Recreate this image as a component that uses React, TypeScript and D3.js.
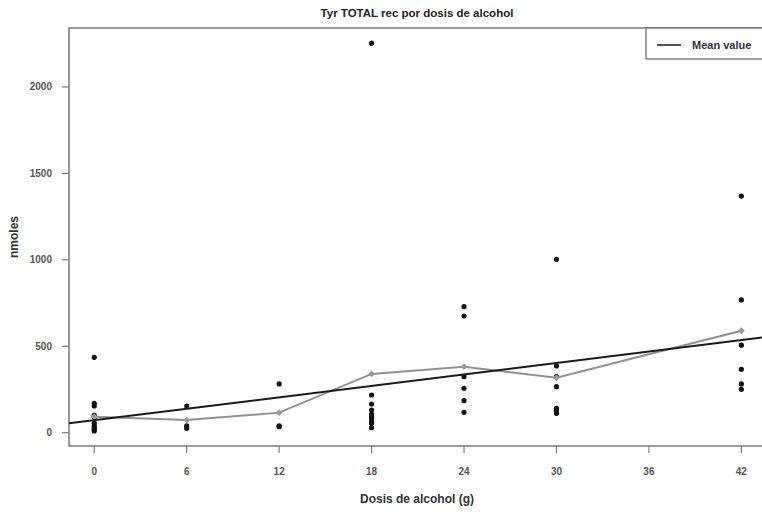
import React, { useEffect, useRef } from "react";
import * as d3 from "d3";

// observed values per alcohol dose
const doses = [0, 6, 12, 18, 24, 30, 42];
const observations = [
  [436, 170, 155, 100, 90, 55, 40, 30, 20, 10],
  [154, 40, 25],
  [282, 40, 35],
  [2253, 218, 166, 131, 108, 95, 83, 65, 54, 29],
  [729, 675, 324, 257, 185, 118],
  [1003, 386, 324, 266, 141, 127, 112],
  [1369, 768, 506, 367, 282, 251],
];
const meanValues = [92, 73, 116, 340, 382, 318, 590];

// fitted line
const fitIntercept = 72;
const fitSlope = 11.05;

const xTicks = [0, 6, 12, 18, 24, 30, 36, 42];
const yTicks = [0, 500, 1000, 1500, 2000];

const App = () => {
  const svgRef = useRef(null);

  useEffect(() => {
    const width = 762;
    const height = 515;
    const left = 69;
    const right = 766;
    const top = 28;
    const bottom = 446;

    const x = d3.scaleLinear().domain([-1.64, 43.6]).range([left, right]);
    const y = d3.scaleLinear().domain([-77, 2341]).range([bottom, top]);

    const svg = d3
      .select(svgRef.current)
      .attr("width", width)
      .attr("height", height)
      .style("font-family", "'Liberation Sans', Arial, sans-serif");

    svg.selectAll("*").remove();

    svg
      .append("rect")
      .attr("width", width)
      .attr("height", height)
      .attr("fill", "white");

    svg
      .append("defs")
      .append("clipPath")
      .attr("id", "plot-clip")
      .append("rect")
      .attr("x", left)
      .attr("y", top)
      .attr("width", right - left)
      .attr("height", bottom - top);

    // frame
    svg
      .append("rect")
      .attr("x", left)
      .attr("y", top)
      .attr("width", right - left)
      .attr("height", bottom - top)
      .attr("fill", "none")
      .attr("stroke", "#7a7a7a")
      .attr("stroke-width", 1.5);

    // x axis
    const xg = svg.append("g").attr("transform", `translate(0,${bottom})`);
    xg.selectAll("line")
      .data(xTicks)
      .join("line")
      .attr("x1", (d) => x(d))
      .attr("x2", (d) => x(d))
      .attr("y1", 0)
      .attr("y2", 7)
      .attr("stroke", "#7a7a7a")
      .attr("stroke-width", 1.2);
    xg.selectAll("text")
      .data(xTicks)
      .join("text")
      .attr("x", (d) => x(d))
      .attr("y", 29)
      .attr("text-anchor", "middle")
      .style("font-size", "10px")
      .style("font-weight", "bold")
      .attr("fill", "#555")
      .text((d) => d);

    // y axis
    const yg = svg.append("g").attr("transform", `translate(${left},0)`);
    yg.selectAll("line")
      .data(yTicks)
      .join("line")
      .attr("x1", 0)
      .attr("x2", -7)
      .attr("y1", (d) => y(d))
      .attr("y2", (d) => y(d))
      .attr("stroke", "#7a7a7a")
      .attr("stroke-width", 1.2);
    yg.selectAll("text")
      .data(yTicks)
      .join("text")
      .attr("x", -17)
      .attr("y", (d) => y(d))
      .attr("dy", "0.35em")
      .attr("text-anchor", "end")
      .style("font-size", "10px")
      .style("font-weight", "bold")
      .attr("fill", "#555")
      .text((d) => d);

    // titles
    svg
      .append("text")
      .attr("x", 417)
      .attr("y", 17)
      .attr("text-anchor", "middle")
      .style("font-size", "11.5px")
      .style("font-weight", "bold")
      .attr("fill", "#222")
      .text("Tyr TOTAL rec por dosis de alcohol");

    svg
      .append("text")
      .attr("x", 417)
      .attr("y", 503)
      .attr("text-anchor", "middle")
      .style("font-size", "12px")
      .style("font-weight", "bold")
      .attr("fill", "#333")
      .text("Dosis de alcohol (g)");

    svg
      .append("text")
      .attr("transform", `translate(18,${(top + bottom) / 2}) rotate(-90)`)
      .attr("text-anchor", "middle")
      .style("font-size", "12px")
      .style("font-weight", "bold")
      .attr("fill", "#333")
      .text("nmoles");

    const plot = svg.append("g").attr("clip-path", "url(#plot-clip)");

    // points
    const points = doses.flatMap((d, i) =>
      observations[i].map((v) => ({ dose: d, value: v }))
    );
    plot
      .append("g")
      .selectAll("circle")
      .data(points)
      .join("circle")
      .attr("cx", (d) => x(d.dose))
      .attr("cy", (d) => y(d.value))
      .attr("r", 2.6)
      .attr("fill", "#111");

    // mean line
    const means = doses.map((d, i) => ({ dose: d, value: meanValues[i] }));
    plot
      .append("path")
      .datum(means)
      .attr("fill", "none")
      .attr("stroke", "#919191")
      .attr("stroke-width", 2)
      .attr(
        "d",
        d3
          .line()
          .x((d) => x(d.dose))
          .y((d) => y(d.value))
      );
    plot
      .append("g")
      .selectAll("path")
      .data(means)
      .join("path")
      .attr("transform", (d) => `translate(${x(d.dose)},${y(d.value)})`)
      .attr("d", d3.symbol(d3.symbolDiamond2, 30)())
      .attr("fill", "#9a9a9a");

    // fitted line
    const [x0, x1] = x.domain();
    plot
      .append("line")
      .attr("x1", x(x0))
      .attr("y1", y(fitIntercept + fitSlope * x0))
      .attr("x2", x(x1))
      .attr("y2", y(fitIntercept + fitSlope * x1))
      .attr("stroke", "#1a1a1a")
      .attr("stroke-width", 2);

    // legend
    const legend = svg.append("g").attr("transform", `translate(646,${top})`);
    legend
      .append("rect")
      .attr("width", 130)
      .attr("height", 31)
      .attr("fill", "white")
      .attr("stroke", "#666")
      .attr("stroke-width", 1.2);
    legend
      .append("line")
      .attr("x1", 11)
      .attr("x2", 35)
      .attr("y1", 17)
      .attr("y2", 17)
      .attr("stroke", "#555")
      .attr("stroke-width", 2);
    legend
      .append("text")
      .attr("x", 46)
      .attr("y", 17)
      .attr("dy", "0.35em")
      .style("font-size", "11px")
      .style("font-weight", "bold")
      .attr("fill", "#333")
      .text("Mean value");
  }, []);

  return (
    <svg
      ref={svgRef}
      style={{ position: "absolute", left: 0, top: 0, display: "block" }}
    ></svg>
  );
};

export default App;
